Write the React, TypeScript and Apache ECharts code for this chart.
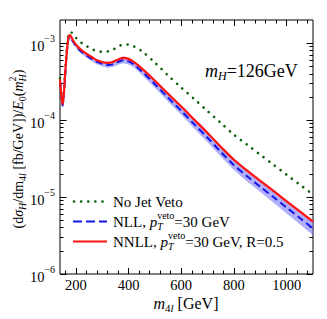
import React, { useEffect, useRef } from "react";
import * as echarts from "echarts";

const FONT = '"Liberation Serif", "Times New Roman", Times, serif';

// m_4l grid [GeV]
const massGeV = [140, 145, 150, 155, 160, 165, 170, 175, 180, 190, 200, 220, 240, 260, 280, 300, 320, 340, 360, 380, 400, 420, 450, 500, 550, 600, 650, 700, 750, 800, 850, 900, 950, 1000, 1050, 1100];

// No jet veto (green dotted)
const noJetVeto = [3.5e-4, 2.15e-4, 1.65e-4, 2.4e-4, 4.4e-4, 7.6e-4, 1.13e-3, 1.38e-3, 1.4e-3, 1.3e-3, 1.18e-3, 1.02e-3, 9.2e-4, 8.4e-4, 7.9e-4, 7.75e-4, 7.8e-4, 8.2e-4, 9.0e-4, 9.6e-4, 9.6e-4, 9.1e-4, 7.9e-4, 5.6e-4, 3.8e-4, 2.65e-4, 1.87e-4, 1.31e-4, 9.2e-5, 6.45e-5, 4.8e-5, 3.55e-5, 2.63e-5, 1.95e-5, 1.45e-5, 1.08e-5];

// NLL, pT veto = 30 GeV (blue dashed) and its band
const nllCentral = [3.26e-4, 2.02e-4, 1.54e-4, 2.2e-4, 4.03e-4, 6.9e-4, 1.0e-3, 1.22e-3, 1.2e-3, 1.04e-3, 9.2e-4, 7.8e-4, 6.95e-4, 6.25e-4, 5.7e-4, 5.4e-4, 5.2e-4, 5.3e-4, 5.7e-4, 6.0e-4, 5.8e-4, 5.3e-4, 4.3e-4, 2.93e-4, 1.96e-4, 1.32e-4, 8.8e-5, 5.9e-5, 3.87e-5, 2.6e-5, 1.86e-5, 1.36e-5, 1.0e-5, 7.3e-6, 5.35e-6, 3.9e-6];
const nllUpper = [3.45e-4, 2.14e-4, 1.63e-4, 2.33e-4, 4.27e-4, 7.3e-4, 1.06e-3, 1.29e-3, 1.27e-3, 1.1e-3, 9.75e-4, 8.3e-4, 7.4e-4, 6.7e-4, 6.1e-4, 5.8e-4, 5.6e-4, 5.75e-4, 6.2e-4, 6.5e-4, 6.3e-4, 5.8e-4, 4.75e-4, 3.27e-4, 2.2e-4, 1.49e-4, 1.0e-4, 6.75e-5, 4.45e-5, 3.02e-5, 2.18e-5, 1.6e-5, 1.19e-5, 8.75e-6, 6.45e-6, 4.75e-6];
const nllLower = [3.08e-4, 1.91e-4, 1.45e-4, 2.08e-4, 3.8e-4, 6.5e-4, 9.45e-4, 1.15e-3, 1.13e-3, 9.8e-4, 8.7e-4, 7.35e-4, 6.5e-4, 5.85e-4, 5.3e-4, 5.0e-4, 4.8e-4, 4.9e-4, 5.25e-4, 5.5e-4, 5.3e-4, 4.85e-4, 3.9e-4, 2.63e-4, 1.75e-4, 1.17e-4, 7.75e-5, 5.15e-5, 3.36e-5, 2.24e-5, 1.59e-5, 1.16e-5, 8.45e-6, 6.1e-6, 4.43e-6, 3.2e-6];

// NNLL, pT veto = 30 GeV, R = 0.5 (red solid) and its band
const nnllCentral = [3.4e-4, 2.1e-4, 1.6e-4, 2.3e-4, 4.2e-4, 7.2e-4, 1.05e-3, 1.27e-3, 1.25e-3, 1.08e-3, 9.6e-4, 8.2e-4, 7.3e-4, 6.6e-4, 6.0e-4, 5.7e-4, 5.55e-4, 5.7e-4, 6.1e-4, 6.45e-4, 6.25e-4, 5.7e-4, 4.7e-4, 3.25e-4, 2.2e-4, 1.5e-4, 1.01e-4, 6.8e-5, 4.5e-5, 3.05e-5, 2.2e-5, 1.62e-5, 1.2e-5, 8.8e-6, 6.5e-6, 4.8e-6];
const nnllUpper = [3.52e-4, 2.17e-4, 1.66e-4, 2.38e-4, 4.35e-4, 7.45e-4, 1.09e-3, 1.31e-3, 1.29e-3, 1.12e-3, 9.95e-4, 8.5e-4, 7.55e-4, 6.85e-4, 6.2e-4, 5.9e-4, 5.75e-4, 5.9e-4, 6.3e-4, 6.7e-4, 6.5e-4, 5.9e-4, 4.87e-4, 3.37e-4, 2.28e-4, 1.56e-4, 1.05e-4, 7.05e-5, 4.68e-5, 3.17e-5, 2.29e-5, 1.69e-5, 1.25e-5, 9.2e-6, 6.8e-6, 5.0e-6];
const nnllLower = [3.28e-4, 2.03e-4, 1.55e-4, 2.22e-4, 4.06e-4, 6.95e-4, 1.01e-3, 1.23e-3, 1.21e-3, 1.04e-3, 9.3e-4, 7.9e-4, 7.05e-4, 6.4e-4, 5.8e-4, 5.5e-4, 5.35e-4, 5.5e-4, 5.9e-4, 6.2e-4, 6.0e-4, 5.5e-4, 4.53e-4, 3.13e-4, 2.12e-4, 1.44e-4, 9.7e-5, 6.55e-5, 4.33e-5, 2.93e-5, 2.11e-5, 1.55e-5, 1.15e-5, 8.4e-6, 6.2e-6, 4.6e-6];

// axes
const xMin = 140;
const xMax = 1100;
const xMajorTicks = [200, 400, 600, 800, 1000];
const xTickLabels = ["200", "400", "600", "800", "1000"];
const xMinorTicks = [160, 240, 280, 320, 360, 440, 480, 520, 560, 640, 680, 720, 760, 840, 880, 920, 960, 1040, 1080];
const yMin = 1e-6;
const yMax = 2e-3;
const yMajorTicks = [1e-6, 1e-5, 1e-4, 1e-3];
const yTickExponents = ["−6", "−5", "−4", "−3"];
const yMinorTicks = [
  2e-6, 3e-6, 4e-6, 5e-6, 6e-6, 7e-6, 8e-6, 9e-6,
  2e-5, 3e-5, 4e-5, 5e-5, 6e-5, 7e-5, 8e-5, 9e-5,
  2e-4, 3e-4, 4e-4, 5e-4, 6e-4, 7e-4, 8e-4, 9e-4,
];

const legendLabels = ["No Jet Veto", "NLL", "NNLL"];
const mHLabel = "126GeV";

const COLORS = {
  green: "#0b620b",
  blue: "#1414e6",
  red: "#ff1414",
  blueBand: "rgba(110,110,245,0.55)",
  redBand: "rgba(255,120,120,0.45)",
};

type Seg = { t: string; size: number; italic?: boolean; dy?: number; stack?: boolean };

function fontStr(size: number, italic?: boolean) {
  return `${italic ? "italic " : "normal "}normal ${size}px ${FONT}`;
}

function makeMeasure() {
  const cv = document.createElement("canvas");
  const ctx = cv.getContext("2d")!;
  return (t: string, size: number, italic?: boolean) => {
    ctx.font = fontStr(size, italic);
    return ctx.measureText(t).width;
  };
}

function layoutSegs(segs: Seg[], x0: number, y0: number, anchor: "left" | "center", measure: (t: string, s: number, i?: boolean) => number) {
  const widths = segs.map((s) => measure(s.t, s.size, s.italic));
  const xs: number[] = [];
  let x = 0;
  let pending = 0;
  segs.forEach((s, i) => {
    xs.push(x);
    if (s.stack) {
      pending = Math.max(pending, widths[i]);
    } else {
      x += Math.max(widths[i], pending);
      pending = 0;
    }
  });
  const off = anchor === "center" ? -x / 2 : 0;
  return segs.map((s, i) => ({
    type: "text",
    x: x0 + off + xs[i],
    y: y0 + (s.dy || 0),
    silent: true,
    style: {
      text: s.t,
      font: fontStr(s.size, s.italic),
      fontSize: s.size,
      fontFamily: FONT,
      fontStyle: s.italic ? "italic" : "normal",
      fill: "#000",
      align: "left",
      verticalAlign: "middle",
    },
  }));
}

function bandSeries(upper: number[], lower: number[], fill: string) {
  return {
    type: "custom",
    xAxisIndex: 0,
    yAxisIndex: 0,
    clip: true,
    silent: true,
    z: 1,
    data: massGeV.map((m, i) => [m, upper[i]]),
    renderItem: (params: any, api: any) => {
      if (params.dataIndex !== 0) return null;
      const pts: number[][] = [];
      for (let i = 0; i < massGeV.length; i++) pts.push(api.coord([massGeV[i], upper[i]]));
      for (let i = massGeV.length - 1; i >= 0; i--) pts.push(api.coord([massGeV[i], lower[i]]));
      return { type: "polygon", shape: { points: pts }, style: { fill, stroke: "none" } };
    },
  };
}

export default function App() {
  const ref = useRef<HTMLDivElement>(null);

  useEffect(() => {
    if (!ref.current) return;
    const chart = echarts.init(ref.current, undefined, { renderer: "svg" });
    const measure = makeMeasure();

    const tickLine = { color: "#000", width: 1 };
    const xBase = {
      type: "value",
      min: xMin,
      max: xMax,
      splitLine: { show: false },
      axisLine: { show: false },
    };
    const yBase = {
      type: "log",
      logBase: 10,
      min: yMin,
      max: yMax,
      splitLine: { show: false },
      axisLine: { show: false },
    };

    const xAxis = [
      {
        ...xBase,
        position: "bottom",
        axisTick: { show: true, inside: true, length: 6, customValues: xMajorTicks, lineStyle: tickLine },
        axisLabel: {
          show: true,
          customValues: xMajorTicks,
          margin: 3,
          color: "#000",
          fontFamily: FONT,
          fontSize: 14.5,
          formatter: (v: number) => {
            const idx = xMajorTicks.findIndex((t) => Math.abs(t - v) < 1e-6);
            return idx < 0 ? "" : xTickLabels[idx];
          },
        },
      },
      {
        ...xBase,
        position: "bottom",
        axisTick: { show: true, inside: true, length: 3.5, customValues: xMinorTicks, lineStyle: tickLine },
        axisLabel: { show: false },
      },
      {
        ...xBase,
        position: "top",
        axisTick: { show: true, inside: true, length: 6, customValues: xMajorTicks, lineStyle: tickLine },
        axisLabel: { show: false },
      },
      {
        ...xBase,
        position: "top",
        axisTick: { show: true, inside: true, length: 3.5, customValues: xMinorTicks, lineStyle: tickLine },
        axisLabel: { show: false },
      },
    ];

    const yAxis = [
      {
        ...yBase,
        position: "left",
        axisTick: { show: true, inside: true, length: 6.5, customValues: yMajorTicks, lineStyle: tickLine },
        axisLabel: {
          show: true,
          customValues: yMajorTicks,
          margin: 5,
          formatter: (v: number) => {
            const idx = yMajorTicks.findIndex((t) => Math.abs(t - v) / t < 1e-6);
            if (idx < 0) return "";
            return `{b|10}{s|${yTickExponents[idx]}}`;
          },
          rich: {
            b: { fontFamily: FONT, fontSize: 14.5, color: "#000", lineHeight: 20, verticalAlign: "bottom" },
            s: { fontFamily: FONT, fontSize: 10, color: "#000", lineHeight: 20, verticalAlign: "top" },
          },
        },
      },
      {
        ...yBase,
        position: "left",
        axisTick: { show: true, inside: true, length: 3.5, customValues: yMinorTicks, lineStyle: tickLine },
        axisLabel: { show: false },
      },
      {
        ...yBase,
        position: "right",
        axisTick: { show: true, inside: true, length: 6.5, customValues: yMajorTicks, lineStyle: tickLine },
        axisLabel: { show: false },
      },
      {
        ...yBase,
        position: "right",
        axisTick: { show: true, inside: true, length: 3.5, customValues: yMinorTicks, lineStyle: tickLine },
        axisLabel: { show: false },
      },
    ];

    const series = [
      bandSeries(nllUpper, nllLower, COLORS.blueBand),
      bandSeries(nnllUpper, nnllLower, COLORS.redBand),
      {
        type: "line",
        name: legendLabels[0],
        data: massGeV.map((m, i) => [m, noJetVeto[i]]),
        showSymbol: false,
        smooth: 0.3,
        z: 3,
        lineStyle: { color: COLORS.green, width: 2.6, type: [0.1, 7], cap: "round" },
      },
      {
        type: "line",
        name: legendLabels[1],
        data: massGeV.map((m, i) => [m, nllCentral[i]]),
        showSymbol: false,
        smooth: 0.3,
        z: 4,
        lineStyle: { color: COLORS.blue, width: 2, type: [7, 4] },
      },
      {
        type: "line",
        name: legendLabels[2],
        data: massGeV.map((m, i) => [m, nnllCentral[i]]),
        showSymbol: false,
        smooth: 0.3,
        z: 5,
        lineStyle: { color: COLORS.red, width: 2.2 },
      },
    ];

    const graphics: any[] = [];
    // m_H label
    graphics.push(
      ...layoutSegs(
        [
          { t: "m", size: 18, italic: true },
          { t: "H", size: 12, italic: true, dy: 5 },
          { t: "=" + mHLabel, size: 18 },
        ],
        205,
        71,
        "left",
        measure
      )
    );
    // x axis title
    graphics.push(
      ...layoutSegs(
        [
          { t: "m", size: 16, italic: true },
          { t: "4", size: 11, dy: 4.5 },
          { t: "l", size: 11, italic: true, dy: 4.5 },
          { t: " [GeV]", size: 16 },
        ],
        186,
        303,
        "center",
        measure
      )
    );
    // y axis title (rotated)
    graphics.push({
      type: "group",
      x: 18,
      y: 149,
      rotation: Math.PI / 2,
      children: layoutSegs(
        [
          { t: "(d", size: 14 },
          { t: "σ", size: 14, italic: true },
          { t: "H", size: 10, italic: true, dy: 4 },
          { t: "/dm", size: 14 },
          { t: "4", size: 10, dy: 4 },
          { t: "l", size: 10, italic: true, dy: 4 },
          { t: " [fb/GeV])/", size: 14 },
          { t: "E", size: 14, italic: true },
          { t: "0", size: 10, dy: 4 },
          { t: "(", size: 14 },
          { t: "m", size: 14, italic: true },
          { t: "H", size: 10, italic: true, dy: 4, stack: true },
          { t: "2", size: 10, dy: -6 },
          { t: ")", size: 14 },
        ],
        0,
        0,
        "center",
        measure
      ),
    });

    // legend
    const legX1 = 73;
    const legX2 = 107;
    const legTextX = 113;
    const rows = [201.5, 221.5, 241.5];
    graphics.push({
      type: "line",
      silent: true,
      shape: { x1: legX1 + 1, y1: rows[0], x2: legX2, y2: rows[0] },
      style: { stroke: COLORS.green, lineWidth: 2.6, lineDash: [0.1, 7], lineCap: "round" },
    });
    graphics.push({
      type: "line",
      silent: true,
      shape: { x1: legX1, y1: rows[1], x2: legX2, y2: rows[1] },
      style: { stroke: COLORS.blue, lineWidth: 2, lineDash: [9, 4] },
    });
    graphics.push({
      type: "line",
      silent: true,
      shape: { x1: legX1, y1: rows[2], x2: legX2, y2: rows[2] },
      style: { stroke: COLORS.red, lineWidth: 2.2 },
    });
    graphics.push(...layoutSegs([{ t: legendLabels[0], size: 15 }], legTextX, rows[0], "left", measure));
    graphics.push(
      ...layoutSegs(
        [
          { t: legendLabels[1] + ", ", size: 15 },
          { t: "p", size: 15, italic: true },
          { t: "T", size: 10, italic: true, dy: 5, stack: true },
          { t: "veto", size: 10, dy: -6 },
          { t: "=30 GeV", size: 15 },
        ],
        legTextX,
        rows[1],
        "left",
        measure
      )
    );
    graphics.push(
      ...layoutSegs(
        [
          { t: legendLabels[2] + ", ", size: 15 },
          { t: "p", size: 15, italic: true },
          { t: "T", size: 10, italic: true, dy: 5, stack: true },
          { t: "veto", size: 10, dy: -6 },
          { t: "=30 GeV, R=0.5", size: 15 },
        ],
        legTextX,
        rows[2],
        "left",
        measure
      )
    );

    chart.setOption({
      animation: false,
      backgroundColor: "#fff",
      grid: {
        left: 60,
        right: 14,
        top: 20,
        bottom: 45,
        show: true,
        borderColor: "#000",
        borderWidth: 1,
        backgroundColor: "transparent",
      },
      xAxis,
      yAxis,
      series,
      graphic: graphics,
    } as any);

    return () => chart.dispose();
  }, []);

  return (
    <div
      ref={ref}
      style={{ position: "absolute", left: 0, top: 0, width: 327, height: 319 }}
    />
  );
}
